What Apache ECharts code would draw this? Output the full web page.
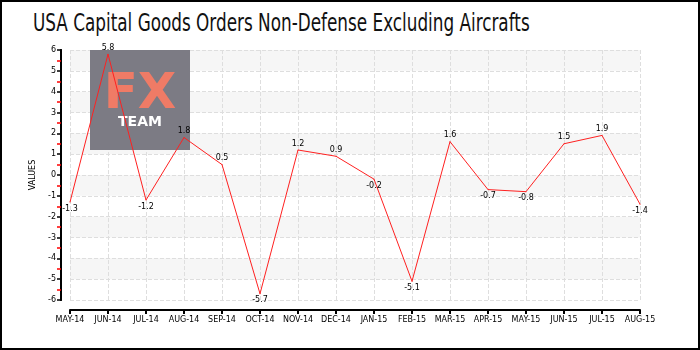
<!DOCTYPE html>
<html>
<head>
<meta charset="utf-8">
<script src="https://cdn.jsdelivr.net/npm/echarts@6/dist/echarts.min.js"></script>
<style>
  html, body { margin: 0; padding: 0; background: #fff; }
  #main {
    width: 700px; height: 350px; box-sizing: border-box;
    border: 2px solid #000; position: relative;
  }
  #title {
    position: absolute; left: 31px; top: 7px;
    font-family: "Liberation Sans Narrow", "DejaVu Sans Condensed", sans-serif;
    font-size: 24px; color: #111; white-space: nowrap;
    transform: scaleX(0.78); transform-origin: 0 0;
  }
  #chart { position: absolute; left: -2px; top: -2px; width: 700px; height: 350px; }
</style>
</head>
<body>
<div id="main">
  <div id="title">USA Capital Goods Orders Non-Defense Excluding Aircrafts</div>
  <div id="chart"></div>
</div>
<script>
var months = ["MAY-14", "JUN-14", "JUL-14", "AUG-14", "SEP-14", "OCT-14", "NOV-14", "DEC-14",
  "JAN-15", "FEB-15", "MAR-15", "APR-15", "MAY-15", "JUN-15", "JUL-15", "AUG-15"];
var values = [-1.3, 5.8, -1.2, 1.8, 0.5, -5.7, 1.2, 0.9, -0.2, -5.1, 1.6, -0.7, -0.8, 1.5, 1.9, -1.4];

var labelFont = "DejaVu Sans";
var chartDom = echarts.init(document.getElementById("chart"));

var option = {
  animation: false,
  grid: { left: 70, right: 60, top: 50, bottom: 50 },
  graphic: [
    { type: "rect", z: 1, shape: { x: 90, y: 50, width: 100, height: 100 }, style: { fill: "#7c7b84" } },
    { type: "text", z: 1, x: 140, y: 95,
      style: { text: "FX", fill: "#ef7b66", font: "bold 50px 'DejaVu Sans'", textAlign: "center", textVerticalAlign: "middle" } },
    { type: "text", z: 1, x: 140, y: 122,
      style: { text: "TEAM", fill: "#fff", font: "bold 14px 'DejaVu Sans'", textAlign: "center", textVerticalAlign: "middle" } }
  ],
  xAxis: {
    type: "category",
    data: months,
    boundaryGap: false,
    offset: 10,
    axisLine: { onZero: false, lineStyle: { color: "#000", width: 2 } },
    axisTick: { show: true, length: 4, lineStyle: { color: "#000", width: 2 } },
    axisLabel: { color: "#000", fontSize: 8, fontFamily: labelFont, margin: 6, interval: 0 },
    splitLine: { show: true, lineStyle: { color: "#dedede", type: "dashed" } }
  },
  yAxis: [
    {
      type: "value",
      position: "left",
      min: -6, max: 6, interval: 1,
      offset: 9,
      name: "VALUES",
      nameLocation: "middle",
      nameGap: 19,
      nameTextStyle: { color: "#000", fontSize: 8, fontFamily: labelFont },
      axisLine: { show: true, onZero: false, lineStyle: { color: "#000", width: 2 } },
      axisTick: { show: true, length: 4, lineStyle: { color: "#000", width: 1.5 } },
      minorTick: { show: true, splitNumber: 2, length: 4, lineStyle: { color: "#ff0000", width: 1.5 } },
      axisLabel: { color: "#000", fontSize: 8, fontFamily: labelFont, margin: 5 },
      splitLine: { show: true, lineStyle: { color: "#dedede", type: "dashed" } },
      splitArea: { show: true, areaStyle: { color: ["rgba(255,255,255,0)", "#f6f6f6"] } }
    },
    {
      // plain axis line on the same spot
      type: "value",
      position: "left",
      min: -6, max: 6, interval: 1,
      offset: 9,
      axisLine: { show: true, onZero: false, lineStyle: { color: "#000", width: 2 } },
      axisTick: { show: false },
      axisLabel: { show: false },
      splitLine: { show: false },
      splitArea: { show: false }
    }
  ],
  series: [
    {
      type: "line",
      z: 3,
      yAxisIndex: 0,
      data: values.map(function (v) {
        return { value: v, label: { position: v > 0 ? "top" : "bottom" } };
      }),
      symbol: "circle",
      symbolSize: 1,
      itemStyle: { color: "#ff2020" },
      lineStyle: { color: "#ff2020", width: 1 },
      label: {
        show: true, distance: 2, color: "#000",
        fontSize: 8, fontFamily: labelFont
      }
    }
  ]
};
chartDom.setOption(option);
</script>
</body>
</html>
